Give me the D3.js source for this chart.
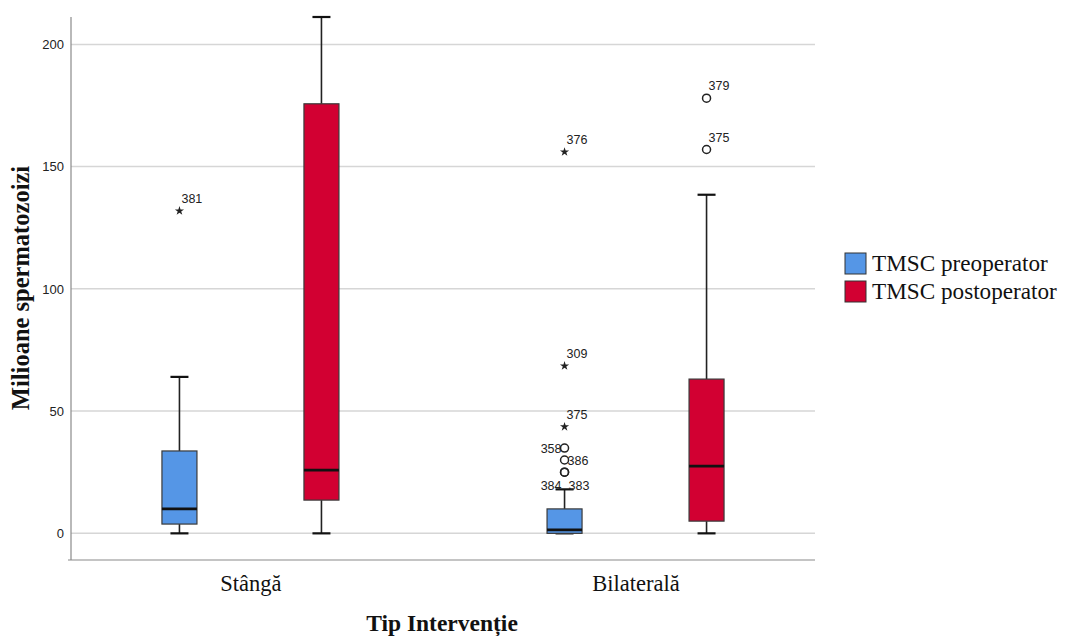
<!DOCTYPE html>
<html>
<head>
<meta charset="utf-8">
<script src="https://cdn.jsdelivr.net/npm/d3@7"></script>
<style>
  html, body { margin: 0; padding: 0; background: #ffffff; }
  svg { display: block; }
</style>
</head>
<body>
<svg id="chart" width="1071" height="636"></svg>
<script>
// Intervention types on the x axis and the two measured series
const categories = ["Stângă", "Bilaterală"];
const seriesNames = ["TMSC preoperator", "TMSC postoperator"];
const seriesColors = ["#5596e6", "#d20032"];

// Five-number summaries per intervention type (million spermatozoa)
const preMin    = [0, 0];
const preQ1     = [3.8, 0];
const preMedian = [10, 1.4];
const preQ3     = [33.7, 10];
const preMax    = [64, 18];

const postMin    = [0, 0];
const postQ1     = [13.6, 5];
const postMedian = [25.9, 27.5];
const postQ3     = [175.7, 63.1];
const postMax    = [211.2, 138.5];

// Outliers: value, case label, type ("o" = outlier, "e" = extreme)
const preOutliers = [
  [{ v: 131.9, id: "381", t: "e" }],
  [
    { v: 156, id: "376", t: "e" },
    { v: 68.5, id: "309", t: "e" },
    { v: 43.6, id: "375", t: "e" },
    { v: 34.9, id: "358", t: "o" },
    { v: 30, id: "386", t: "o" },
    { v: 25, id: "384", t: "o" },
    { v: 25, id: "383", t: "o" }
  ]
];
const postOutliers = [
  [],
  [
    { v: 178, id: "379", t: "o" },
    { v: 157, id: "375", t: "o" }
  ]
];

const yTicks = [0, 50, 100, 150, 200];
const yTitle = "Milioane spermatozoizi";
const xTitle = "Tip Intervenție";

// Which case labels sit to the left of their marker
const leftLabels = new Set(["358", "384"]);

const svg = d3.select("#chart");
const plot = { left: 71, right: 815, top: 17, bottom: 560 };

const y = d3.scaleLinear().domain([-10.9, 211.2]).range([plot.bottom, plot.top]);
const x = d3.scalePoint().domain(categories).range([plot.left, plot.right]).padding(0.466);
const xSub = d3.scalePoint().domain(seriesNames).range([-71, 71]);
const boxW = 35;
const capW = 18;

// Horizontal gridlines
svg.append("g")
  .selectAll("line")
  .data(yTicks)
  .join("line")
  .attr("x1", plot.left)
  .attr("x2", plot.right)
  .attr("y1", d => y(d))
  .attr("y2", d => y(d))
  .attr("stroke", "#d6d6d6")
  .attr("stroke-width", 1.5);

// Y axis
const yAxis = svg.append("g")
  .attr("transform", `translate(${plot.left},0)`)
  .call(d3.axisLeft(y).tickValues(yTicks).tickSize(0).tickPadding(7));
yAxis.select(".domain").attr("stroke", "#8a8a8a").attr("stroke-width", 1.2)
  .attr("d", `M0,${plot.top}V${plot.bottom}`);
yAxis.selectAll("text")
  .attr("font-family", "Liberation Sans, Arial, sans-serif")
  .attr("font-size", 13)
  .attr("fill", "#222");

// X axis
const xAxis = svg.append("g")
  .attr("transform", `translate(0,${plot.bottom})`)
  .call(d3.axisBottom(x).tickSize(0).tickPadding(13));
xAxis.select(".domain").attr("stroke", "#8a8a8a").attr("stroke-width", 1.2)
  .attr("d", `M${plot.left - 3},0H${plot.right}`);
xAxis.selectAll("text")
  .attr("font-family", "Liberation Serif, Times New Roman, serif")
  .attr("font-size", 22.5)
  .attr("fill", "#111")
  .attr("dy", "0.8em");

// Assemble box records from the arrays
const boxes = [];
categories.forEach((c, i) => {
  boxes.push({ cat: c, s: seriesNames[0], color: seriesColors[0],
    min: preMin[i], q1: preQ1[i], med: preMedian[i], q3: preQ3[i], max: preMax[i], out: preOutliers[i] });
  boxes.push({ cat: c, s: seriesNames[1], color: seriesColors[1],
    min: postMin[i], q1: postQ1[i], med: postMedian[i], q3: postQ3[i], max: postMax[i], out: postOutliers[i] });
});

const g = svg.append("g");
boxes.forEach(b => {
  const cx = x(b.cat) + xSub(b.s);
  const grp = g.append("g");
  // whiskers
  grp.append("line").attr("x1", cx).attr("x2", cx).attr("y1", y(b.q3)).attr("y2", y(b.max))
    .attr("stroke", "#222").attr("stroke-width", 1.6);
  grp.append("line").attr("x1", cx).attr("x2", cx).attr("y1", y(b.q1)).attr("y2", y(b.min))
    .attr("stroke", "#222").attr("stroke-width", 1.6);
  // caps
  [b.min, b.max].forEach(v => {
    grp.append("line").attr("x1", cx - capW / 2).attr("x2", cx + capW / 2)
      .attr("y1", y(v)).attr("y2", y(v)).attr("stroke", "#111").attr("stroke-width", 2.2);
  });
  // box
  grp.append("rect")
    .attr("x", cx - boxW / 2).attr("width", boxW)
    .attr("y", y(b.q3)).attr("height", y(b.q1) - y(b.q3))
    .attr("fill", b.color).attr("stroke", "#3a3a3a").attr("stroke-width", 1.2);
  // median
  grp.append("line").attr("x1", cx - boxW / 2).attr("x2", cx + boxW / 2)
    .attr("y1", y(b.med)).attr("y2", y(b.med)).attr("stroke", "#111").attr("stroke-width", 2.8);

  // outliers
  b.out.forEach(o => {
    const py = y(o.v);
    if (o.t === "e") {
      grp.append("path")
        .attr("d", d3.symbol().type(d3.symbolStar).size(26)())
        .attr("transform", `translate(${cx},${py})`)
        .attr("fill", "#222");
    } else {
      grp.append("circle").attr("cx", cx).attr("cy", py).attr("r", 4)
        .attr("fill", "none").attr("stroke", "#222").attr("stroke-width", 1.5);
    }
  });
  // case labels
  b.out.forEach(o => {
    const py = y(o.v);
    const left = leftLabels.has(o.id);
    let lx, ly, anchor;
    if (o.t === "o" && o.v < 27 && o.v > 20) {
      // coincident cases: labels below the marker, either side
      lx = left ? cx - 3 : cx + 4; ly = py + 18; anchor = left ? "end" : "start";
    } else if (left) {
      lx = cx - 3; ly = py + 5; anchor = "end";
    } else if (o.t === "o" && o.v < 40) {
      lx = cx + 3; ly = py + 5; anchor = "start";
    } else {
      lx = cx + 2; ly = py - 8; anchor = "start";
    }
    grp.append("text").attr("x", lx).attr("y", ly).attr("text-anchor", anchor)
      .attr("font-family", "Liberation Sans, Arial, sans-serif")
      .attr("font-size", 12.5).attr("fill", "#222")
      .text(o.id);
  });
});

// Axis titles
svg.append("text")
  .attr("transform", `translate(29,288) rotate(-90)`)
  .attr("text-anchor", "middle")
  .attr("font-family", "Liberation Serif, Times New Roman, serif")
  .attr("font-weight", "bold").attr("font-size", 24.5).attr("fill", "#111")
  .text(yTitle);

svg.append("text")
  .attr("x", 442).attr("y", 631)
  .attr("text-anchor", "middle")
  .attr("font-family", "Liberation Serif, Times New Roman, serif")
  .attr("font-weight", "bold").attr("font-size", 23.5).attr("fill", "#111")
  .text(xTitle);

// Legend
const legend = svg.append("g").attr("transform", "translate(845,253)");
seriesNames.forEach((s, i) => {
  const row = legend.append("g").attr("transform", `translate(0,${i * 28})`);
  row.append("rect").attr("width", 21).attr("height", 21)
    .attr("fill", seriesColors[i]).attr("stroke", "#333").attr("stroke-width", 1);
  row.append("text").attr("x", 27).attr("y", 18)
    .attr("font-family", "Liberation Serif, Times New Roman, serif")
    .attr("font-size", 23.2).attr("fill", "#111")
    .text(s);
});
</script>
</body>
</html>
